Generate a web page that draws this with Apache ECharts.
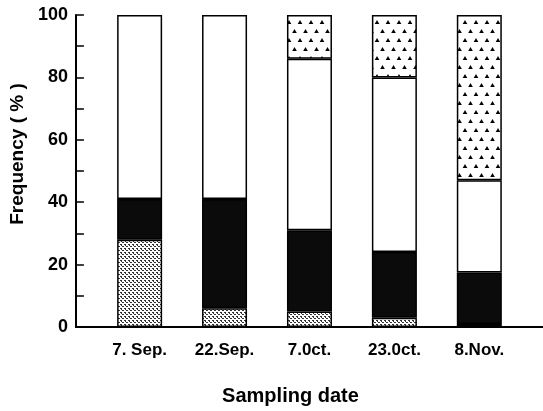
<!DOCTYPE html>
<html>
<head>
<meta charset="utf-8">
<script src="https://cdn.jsdelivr.net/npm/echarts@6/dist/echarts.min.js"></script>
<style>
  html, body { margin: 0; padding: 0; background: #fff; }
  #main { width: 543px; height: 411px; }
</style>
</head>
<body>
<div id="main"></div>
<script>
var categories = ['7. Sep.', '22.Sep.', '7.0ct.', '23.0ct.', '8.Nov.'];
var dotted   = [28, 6, 5, 3, 1];
var dark     = [13, 35, 26, 21, 16.5];
var white    = [59, 59, 55, 56, 29.5];
var triangle = [0, 0, 14, 20, 53];
var yTicks = [0, 20, 40, 60, 80, 100];

// one empty slot before each date keeps the bars where they sit in the figure
function padNames(arr) {
  var out = [];
  arr.forEach(function(v, i) { out.push('_' + i); out.push(v); });
  out.push('_end');
  return out;
}
function padValues(arr) {
  var out = [];
  arr.forEach(function(v) { out.push('-'); out.push(v === 0 ? '-' : v); });
  out.push('-');
  return out;
}

function stipple() {
  var c = document.createElement('canvas');
  c.width = 4; c.height = 4;
  var g = c.getContext('2d');
  g.fillStyle = '#fff'; g.fillRect(0, 0, 4, 4);
  g.fillStyle = '#333';
  g.fillRect(0, 0, 2, 1);
  g.fillRect(2, 2, 2, 1);
  g.fillRect(1, 1, 1, 1);
  return c;
}
function triangles() {
  var c = document.createElement('canvas');
  c.width = 11; c.height = 18;
  var g = c.getContext('2d');
  g.fillStyle = '#fff'; g.fillRect(0, 0, 11, 18);
  g.fillStyle = '#000';
  [[3, 2], [8.5, 11]].forEach(function(p) {
    g.beginPath();
    g.moveTo(p[0], p[1]);
    g.lineTo(p[0] + 2.3, p[1] + 4);
    g.lineTo(p[0] - 2.3, p[1] + 4);
    g.closePath();
    g.fill();
  });
  return c;
}

var font = "'Liberation Sans', Arial, sans-serif";
var myChart = echarts.init(document.getElementById('main'));

function barSeries(name, values, color) {
  return {
    name: name,
    type: 'bar',
    stack: 'freq',
    barWidth: 45,
    data: padValues(values),
    itemStyle: { color: color, borderColor: '#000', borderWidth: 1.5 },
    silent: true
  };
}

var option = {
  animation: false,
  backgroundColor: '#fff',
  grid: { left: 75, top: 15, bottom: 80, width: 498 },
  xAxis: {
    type: 'category',
    data: padNames(categories),
    boundaryGap: true,
    axisLine: { lineStyle: { color: '#000', width: 2 } },
    axisTick: { show: false },
    axisLabel: {
      interval: 0,
      margin: 15,
      color: '#000',
      fontFamily: font,
      fontWeight: 'bold',
      fontSize: 17,
      formatter: function(v) { return v.charAt(0) === '_' ? '' : v; }
    },
    name: 'Sampling date',
    nameLocation: 'middle',
    nameGap: 59,
    nameTextStyle: {
      color: '#000', fontFamily: font, fontWeight: 'bold', fontSize: 20,
      padding: [0, 38, 0, 0]
    }
  },
  yAxis: {
    type: 'value',
    min: yTicks[0],
    max: yTicks[yTicks.length - 1],
    interval: 20,
    splitLine: { show: false },
    axisLine: { show: true, lineStyle: { color: '#000', width: 2 } },
    axisTick: { show: true, inside: true, length: 8, lineStyle: { color: '#000', width: 1.5 } },
    minorTick: { show: true, splitNumber: 2, length: 8, lineStyle: { color: '#000', width: 1.5 } },
    axisLabel: {
      margin: 8,
      color: '#000',
      fontFamily: font,
      fontWeight: 'bold',
      fontSize: 18
    },
    name: 'Frequency ( % )',
    nameLocation: 'middle',
    nameGap: 48,
    nameTextStyle: {
      color: '#000', fontFamily: font, fontWeight: 'bold', fontSize: 19,
      padding: [0, 0, 0, 34]
    }
  },
  series: [
    barSeries('dotted', dotted, { image: stipple(), repeat: 'repeat' }),
    barSeries('dark', dark, '#0b0b0b'),
    barSeries('white', white, '#fff'),
    barSeries('triangle', triangle, { image: triangles(), repeat: 'repeat' })
  ]
};
myChart.setOption(option);
</script>
</body>
</html>
